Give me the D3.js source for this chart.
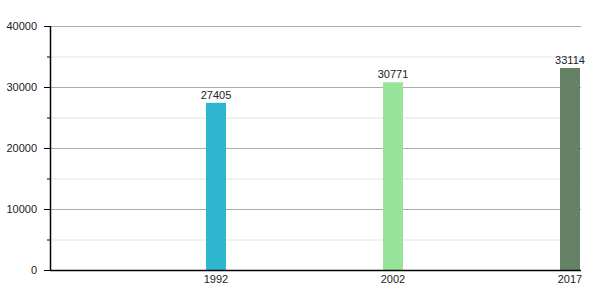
<!DOCTYPE html>
<html>
<head>
<meta charset="utf-8">
<script src="https://cdn.jsdelivr.net/npm/d3@7"></script>
<style>
  body { margin: 0; background: #fff; }
  text { font-family: "Liberation Sans", Arial, sans-serif; }
</style>
</head>
<body>
<svg id="chart" width="600" height="300"></svg>
<script>
var years = ['1992', '2002', '2017'];
var values = [27405, 30771, 33114];
var colors = ['#2fb5cd', '#98e59a', '#668266'];
var majorTicks = [0, 10000, 20000, 30000, 40000];
var minorTicks = [5000, 15000, 25000, 35000];

var plotLeft = 50, plotRight = 581, plotTop = 26, plotBottom = 270;
var barW = 20;

var svg = d3.select('#chart');

var x = d3.scaleBand()
    .domain(years)
    .range([plotLeft, plotRight]);

var y = d3.scaleLinear()
    .domain([0, 40000])
    .range([plotBottom, plotTop]);

// minor gridlines
svg.append('g').selectAll('line').data(minorTicks).enter()
    .append('line')
    .attr('x1', plotLeft).attr('x2', plotRight)
    .attr('y1', d => y(d) + 0.5).attr('y2', d => y(d) + 0.5)
    .attr('stroke', '#e2e2e2');

// major gridlines
svg.append('g').selectAll('line').data(majorTicks.slice(1)).enter()
    .append('line')
    .attr('x1', plotLeft).attr('x2', plotRight)
    .attr('y1', d => y(d) + 0.5).attr('y2', d => y(d) + 0.5)
    .attr('stroke', '#ababab');

// bars, sitting at the right end of each band
var barX = d => x(d) + x.bandwidth() - barW - 1;
svg.append('g').selectAll('rect').data(years).enter()
    .append('rect')
    .attr('x', d => barX(d))
    .attr('y', (d, i) => y(values[i]))
    .attr('width', barW)
    .attr('height', (d, i) => plotBottom - y(values[i]))
    .attr('fill', (d, i) => colors[i]);

// value labels
svg.append('g').selectAll('text').data(years).enter()
    .append('text')
    .attr('x', d => barX(d) + barW / 2)
    .attr('y', (d, i) => y(values[i]) - 4)
    .attr('text-anchor', 'middle')
    .style('font-size', '11px')
    .attr('fill', '#222')
    .text((d, i) => values[i]);

// year labels
svg.append('g').selectAll('text').data(years).enter()
    .append('text')
    .attr('x', d => barX(d) + barW / 2)
    .attr('y', plotBottom + 13)
    .attr('text-anchor', 'middle')
    .style('font-size', '11px')
    .attr('fill', '#222')
    .text(d => d);

// y axis
var yAxis = svg.append('g')
    .attr('transform', 'translate(' + plotLeft + ',0)')
    .call(d3.axisLeft(y).tickValues(majorTicks).tickSize(6).tickPadding(7).tickFormat(d3.format('d')));
yAxis.select('.domain').remove();
yAxis.selectAll('.tick line').attr('stroke', '#000');
yAxis.selectAll('.tick text')
    .style('font-size', '11px')
    .style('font-family', '"Liberation Sans", Arial, sans-serif')
    .attr('fill', '#222');

svg.append('g').selectAll('line').data(minorTicks).enter()
    .append('line')
    .attr('x1', plotLeft - 3).attr('x2', plotLeft)
    .attr('y1', d => y(d) + 0.5).attr('y2', d => y(d) + 0.5)
    .attr('stroke', '#000');

svg.append('line')
    .attr('x1', plotLeft + 0.5).attr('x2', plotLeft + 0.5)
    .attr('y1', plotTop).attr('y2', plotBottom)
    .attr('stroke', '#000').attr('stroke-width', 1.5);

// x axis line
svg.append('line')
    .attr('x1', plotLeft).attr('x2', plotRight)
    .attr('y1', plotBottom + 0.5).attr('y2', plotBottom + 0.5)
    .attr('stroke', '#000').attr('stroke-width', 1.5);
</script>
</body>
</html>
